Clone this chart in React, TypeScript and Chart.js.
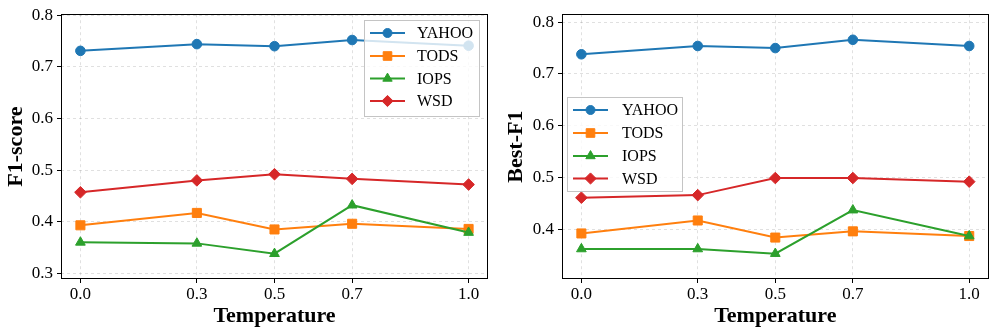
import React, { useEffect, useRef } from 'react';
import { Chart, registerables } from 'chart.js';

Chart.register(...registerables);

// ---------------- DATA ----------------
const temperatures = [0.0, 0.3, 0.5, 0.7, 1.0];
const xTickValues = [0.0, 0.3, 0.5, 0.7, 1.0];
const leftYTicks = [0.3, 0.4, 0.5, 0.6, 0.7, 0.8];
const rightYTicks = [0.4, 0.5, 0.6, 0.7, 0.8];
const seriesNames = ['YAHOO', 'TODS', 'IOPS', 'WSD'];

const f1Yahoo = [0.731, 0.744, 0.740, 0.752, 0.741];
const f1Tods = [0.393, 0.417, 0.385, 0.396, 0.386];
const f1Iops = [0.360, 0.358, 0.338, 0.432, 0.379];
const f1Wsd = [0.457, 0.480, 0.492, 0.483, 0.472];

const bestYahoo = [0.738, 0.754, 0.750, 0.766, 0.754];
const bestTods = [0.392, 0.417, 0.384, 0.396, 0.387];
const bestIops = [0.362, 0.362, 0.353, 0.437, 0.387];
const bestWsd = [0.461, 0.466, 0.499, 0.499, 0.492];

// ---------------- STYLE ----------------
const FONT = '"Liberation Serif", "Times New Roman", serif';
const colors = ['#1f77b4', '#ff7f0e', '#2ca02c', '#d62728'];
const pointStyles = ['circle', 'rect', 'triangle', 'rectRot'];
const pointRadii = [4.8, 6.4, 5.6, 5.8];

function drawMarker(ctx: CanvasRenderingContext2D, style: string, x: number, y: number, color: string) {
  ctx.fillStyle = color;
  ctx.strokeStyle = color;
  ctx.lineWidth = 1;
  ctx.beginPath();
  if (style === 'circle') {
    ctx.arc(x, y, 4.5, 0, Math.PI * 2);
  } else if (style === 'rect') {
    ctx.rect(x - 4.3, y - 4.3, 8.6, 8.6);
  } else if (style === 'triangle') {
    const r = 5.4;
    ctx.moveTo(x, y - r);
    ctx.lineTo(x + r * Math.sin(Math.PI / 3), y + r / 2);
    ctx.lineTo(x - r * Math.sin(Math.PI / 3), y + r / 2);
    ctx.closePath();
  } else {
    const r = 5.6;
    ctx.moveTo(x, y - r);
    ctx.lineTo(x + r, y);
    ctx.lineTo(x, y + r);
    ctx.lineTo(x - r, y);
    ctx.closePath();
  }
  ctx.fill();
  ctx.stroke();
}

const frameLegendPlugin = {
  id: 'frameLegend',
  afterDraw(chart: any, _args: any, opts: any) {
    const { ctx, chartArea: a } = chart;
    ctx.save();
    // frame
    ctx.strokeStyle = '#000';
    ctx.lineWidth = 1;
    ctx.setLineDash([]);
    ctx.strokeRect(Math.round(a.left) + 0.5, Math.round(a.top) + 0.5, Math.round(a.right - a.left) - 1, Math.round(a.bottom - a.top) - 1);
    // legend
    const { x, y, w, h, rows, textX, lineX1, lineX2 } = opts;
    ctx.fillStyle = 'rgba(255,255,255,0.8)';
    ctx.fillRect(x, y, w, h);
    ctx.strokeStyle = '#c4c4c4';
    ctx.strokeRect(x + 0.5, y + 0.5, w - 1, h - 1);
    seriesNames.forEach((name, i) => {
      const ry = rows[i];
      ctx.strokeStyle = colors[i];
      ctx.lineWidth = 2;
      ctx.beginPath();
      ctx.moveTo(lineX1, ry);
      ctx.lineTo(lineX2, ry);
      ctx.stroke();
      drawMarker(ctx, pointStyles[i], (lineX1 + lineX2) / 2, ry, colors[i]);
      ctx.fillStyle = '#000';
      ctx.font = `16px ${FONT}`;
      ctx.textBaseline = 'middle';
      ctx.textAlign = 'left';
      ctx.fillText(name, textX, ry + 1);
    });
    ctx.restore();
  },
};

function makeConfig(
  series: number[][],
  yLabel: string,
  yMin: number,
  yMax: number,
  yTicks: number[],
  axisWidth: number,
  padRight: number,
  titlePad: number,
  legend: any
): any {
  const datasets = series.map((vals, i) => ({
    label: seriesNames[i],
    data: temperatures.map((t, j) => ({ x: t, y: vals[j] })),
    borderColor: colors[i],
    backgroundColor: colors[i],
    pointBackgroundColor: colors[i],
    pointBorderColor: colors[i],
    pointBorderWidth: 1,
    pointStyle: pointStyles[i],
    pointRadius: pointRadii[i],
    borderWidth: 2,
    tension: 0,
    order: 4 - i,
  }));
  const gridCommon = {
    color: 'rgba(0,0,0,0.12)',
    borderDash: [3, 3],
    drawTicks: true,
    tickLength: 4,
    tickColor: '#000',
    tickWidth: 1,
    tickBorderDash: [],
  };
  return {
    type: 'line',
    data: { datasets },
    plugins: [frameLegendPlugin],
    options: {
      animation: false,
      responsive: false,
      devicePixelRatio: 1,
      layout: { padding: { left: 0, right: padRight, top: 13, bottom: 0 } },
      plugins: {
        legend: { display: false },
        tooltip: { enabled: false },
        frameLegend: legend,
      },
      scales: {
        x: {
          type: 'linear',
          min: -0.05,
          max: 1.05,
          afterBuildTicks: (s: any) => {
            s.ticks = xTickValues.map((v) => ({ value: v }));
          },
          afterFit: (s: any) => {
            s.height = 55;
          },
          ticks: {
            callback: (v: any) => Number(v).toFixed(1),
            font: { family: FONT, size: 17 },
            color: '#000',
            padding: 1,
            maxRotation: 0,
            autoSkip: false,
          },
          grid: gridCommon,
          border: { display: false, dash: [3, 3] },
          title: {
            display: true,
            text: 'Temperature',
            font: { family: FONT, size: 22, weight: 'bold' },
            color: '#000',
            padding: { top: 0, bottom: 4 },
          },
        },
        y: {
          type: 'linear',
          min: yMin,
          max: yMax,
          afterBuildTicks: (s: any) => {
            s.ticks = yTicks.map((v) => ({ value: v }));
          },
          afterFit: (s: any) => {
            s.width = axisWidth;
          },
          ticks: {
            callback: (v: any) => Number(v).toFixed(1),
            font: { family: FONT, size: 17 },
            color: '#000',
            padding: 4,
            autoSkip: false,
          },
          grid: gridCommon,
          border: { display: false, dash: [3, 3] },
          title: {
            display: true,
            text: yLabel,
            font: { family: FONT, size: 22, weight: 'bold' },
            color: '#000',
            padding: { top: titlePad, bottom: 0 },
          },
        },
      },
    },
  };
}

function ChartPanel({ config }: { config: any }) {
  const ref = useRef<HTMLCanvasElement | null>(null);
  useEffect(() => {
    if (!ref.current) return;
    const chart = new Chart(ref.current, config);
    return () => chart.destroy();
  }, [config]);
  return <canvas ref={ref} width={498} height={334} style={{ width: 498, height: 334, display: 'block' }} />;
}

const leftConfig = makeConfig(
  [f1Yahoo, f1Tods, f1Iops, f1Wsd],
  'F1-score',
  0.289,
  0.802,
  leftYTicks,
  61,
  10,
  3,
  { x: 364, y: 20, w: 116, h: 97, rows: [33, 56, 78.5, 101], textX: 417, lineX1: 370, lineX2: 405 }
);

const rightConfig = makeConfig(
  [bestYahoo, bestTods, bestIops, bestWsd],
  'Best-F1',
  0.304,
  0.8154,
  rightYTicks,
  64,
  7,
  5,
  { x: 69, y: 97, w: 116, h: 95, rows: [110, 133, 156, 178.5], textX: 124, lineX1: 75, lineX2: 110 }
);

export default function App() {
  return (
    <div style={{ position: 'fixed', left: 0, top: 0, width: 996, height: 334, background: '#fff', display: 'flex' }}>
      <ChartPanel config={leftConfig} />
      <ChartPanel config={rightConfig} />
    </div>
  );
}
